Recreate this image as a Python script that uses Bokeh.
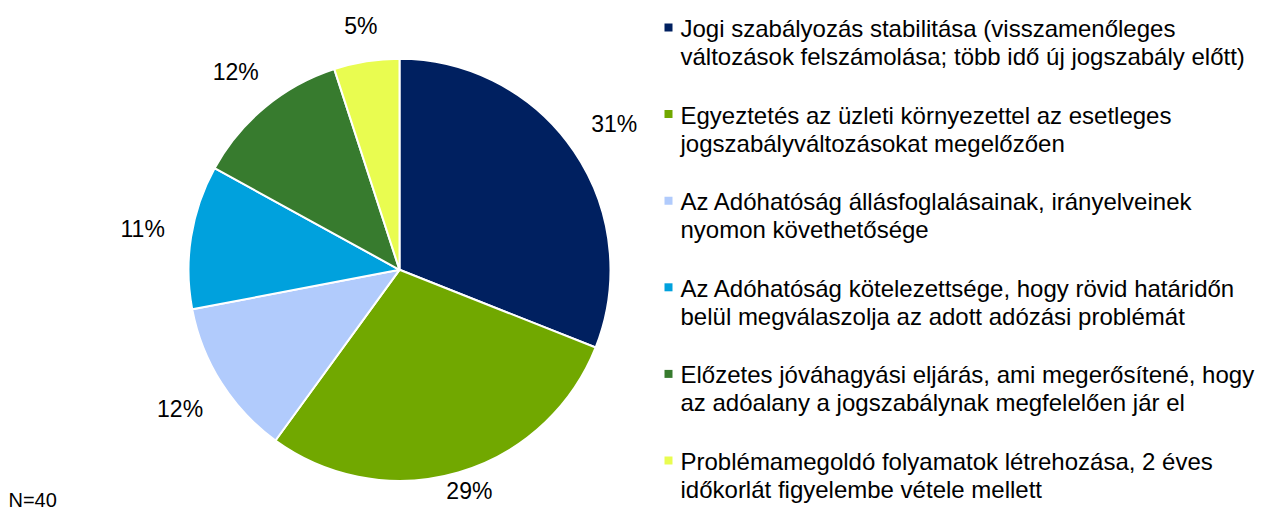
import numpy as np
from bokeh.plotting import figure
from bokeh.models import Range1d
from bokeh.core.properties import value
from bokeh.embed import file_html
from bokeh.resources import INLINE

# ---- data ----
categories_line1 = [
    "Jogi szabályozás stabilitása (visszamenőleges",
    "Egyeztetés az üzleti környezettel az esetleges",
    "Az Adóhatóság állásfoglalásainak, irányelveinek",
    "Az Adóhatóság kötelezettsége, hogy rövid határidőn",
    "Előzetes jóváhagyási eljárás, ami megerősítené, hogy",
    "Problémamegoldó folyamatok létrehozása, 2 éves",
]
categories_line2 = [
    "változások felszámolása; több idő új jogszabály előtt)",
    "jogszabályváltozásokat megelőzően",
    "nyomon követhetősége",
    "belül megválaszolja az adott adózási problémát",
    "az adóalany a jogszabálynak megfelelően jár el",
    "időkorlát figyelembe vétele mellett",
]
shares = [31, 29, 12, 11, 12, 5]
pct_labels = ["31%", "29%", "12%", "11%", "12%", "5%"]
colors = ["#002060", "#71A800", "#B1CBFC", "#00A1DD", "#377B2E", "#E9FC50"]
note = "N=40"

# ---- layout ----
W, H = 1263, 510
FONT = value("Liberation Sans")
cx, cy, R = 399, H - 269.3, 211
PCT_FS = 23
gap = 25

p = figure(width=W, height=H, x_range=Range1d(0, W), y_range=Range1d(0, H),
           output_backend="svg", toolbar_location=None, min_border=0)
p.axis.visible = False
p.grid.visible = False
p.outline_line_color = None
p.background_fill_color = "white"
p.border_fill_color = "white"

vals = np.array(shares, dtype=float)
frac = vals / vals.sum()
cum = np.concatenate([[0], np.cumsum(frac)]) * 2 * np.pi  # clockwise from top
start_cw, end_cw = cum[:-1], cum[1:]
p.wedge(x=cx, y=cy, radius=R,
        start_angle=list(np.pi / 2 - end_cw), end_angle=list(np.pi / 2 - start_cw),
        direction="anticlock", fill_color=colors, line_color="white", line_width=2)

# outside-end labels: box just clear of the rim along the mid-angle
mid = (start_cw + end_cw) / 2
ux, uy = np.sin(mid), np.cos(mid)
hw = np.array([(len(t) - 1) * 0.278 * PCT_FS + 0.445 * PCT_FS for t in pct_labels])
hh = 0.36 * PCT_FS
d = R + gap + np.abs(ux) * hw + np.abs(uy) * hh
lx = cx + d * ux
ly = np.clip(cy + d * uy, 20, H - 20)
p.text(x=list(lx), y=list(ly), text=pct_labels, text_align="center", text_baseline="middle",
       text_font=FONT, text_font_size=f"{PCT_FS}px", text_color="#000000")

# legend
n = len(categories_line1)
idx = np.arange(n)
mid1 = H - (28 + idx * 86.6)
mid2 = mid1 - 28
p.scatter(x=[668] * n, y=list(mid1 + 1), marker="square", size=8,
          fill_color=colors, line_color=None)
p.text(x=[680] * n, y=list(mid1), text=categories_line1, text_align="left",
       text_baseline="middle", text_font=FONT, text_font_size="24px", text_color="#000000")
p.text(x=[680] * n, y=list(mid2), text=categories_line2, text_align="left",
       text_baseline="middle", text_font=FONT, text_font_size="24px", text_color="#000000")

p.text(x=[8], y=[0], text=[note], text_align="left", text_baseline="bottom",
       text_font=FONT, text_font_size="20px", text_color="#000000")

open("out.html", "w").write(file_html(p, INLINE))
